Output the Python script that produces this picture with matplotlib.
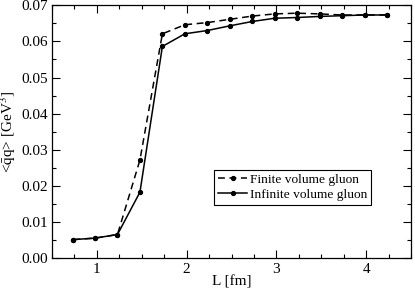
import matplotlib
matplotlib.use('Agg')
import matplotlib.pyplot as plt
from matplotlib.ticker import MultipleLocator

plt.rcParams['font.family'] = 'Liberation Serif'
plt.rcParams['mathtext.fontset'] = 'stix'

L = [0.74, 0.98, 1.23, 1.48, 1.73, 1.98, 2.23, 2.48, 2.73, 2.98, 3.23, 3.48, 3.73, 3.98, 4.23]
finite = [0.0052, 0.0056, 0.0066, 0.0272, 0.0621, 0.0646, 0.0652, 0.0661, 0.0670,
          0.0676, 0.0678, 0.0676, 0.0673, 0.0673, 0.0673]
infinite = [0.0052, 0.0056, 0.0066, 0.0183, 0.0586, 0.0621, 0.0630, 0.0643, 0.0655,
            0.0664, 0.0666, 0.0669, 0.0671, 0.0673, 0.0673]

fig = plt.figure(figsize=(4.15, 2.9), dpi=100)
ax = fig.add_axes([0.125, 0.109, 0.866, 0.873])

ax.plot(L, finite, color='black', linestyle=(0, (4.5, 3)), linewidth=1.1,
        marker='o', markersize=2.8, label='Finite volume gluon')
ax.plot(L, infinite, color='black', linestyle='-', linewidth=1.1,
        marker='o', markersize=2.8, label='Infinite volume gluon')

ax.set_xlim(0.5, 4.5)
ax.set_ylim(0.0, 0.07)
ax.xaxis.set_major_locator(MultipleLocator(1))
ax.xaxis.set_minor_locator(MultipleLocator(0.25))
ax.yaxis.set_major_locator(MultipleLocator(0.01))
ax.yaxis.set_minor_locator(MultipleLocator(0.005))
ax.yaxis.set_major_formatter(plt.FormatStrFormatter('%.2f'))
ax.tick_params(which='both', direction='in', top=True, right=True, labelsize=11, width=0.8)
ax.tick_params(which='major', length=6, pad=3)
ax.tick_params(which='minor', length=3)
for s in ax.spines.values():
    s.set_linewidth(0.9)

ax.set_xlabel('L [fm]', fontsize=11, labelpad=0)
ax.set_ylabel(r'<$\bar{\mathrm{q}}$q> [GeV$^3$]', fontsize=11, labelpad=2)

leg = ax.legend(loc='lower left', bbox_to_anchor=(0.451, 0.211), borderaxespad=0,
                fontsize=9.6, fancybox=False, edgecolor='black', framealpha=1,
                handlelength=2.2, handletextpad=0.2, borderpad=0.3, labelspacing=0.2)
leg.get_frame().set_linewidth(0.8)

fig.savefig('out.png', dpi=100)
